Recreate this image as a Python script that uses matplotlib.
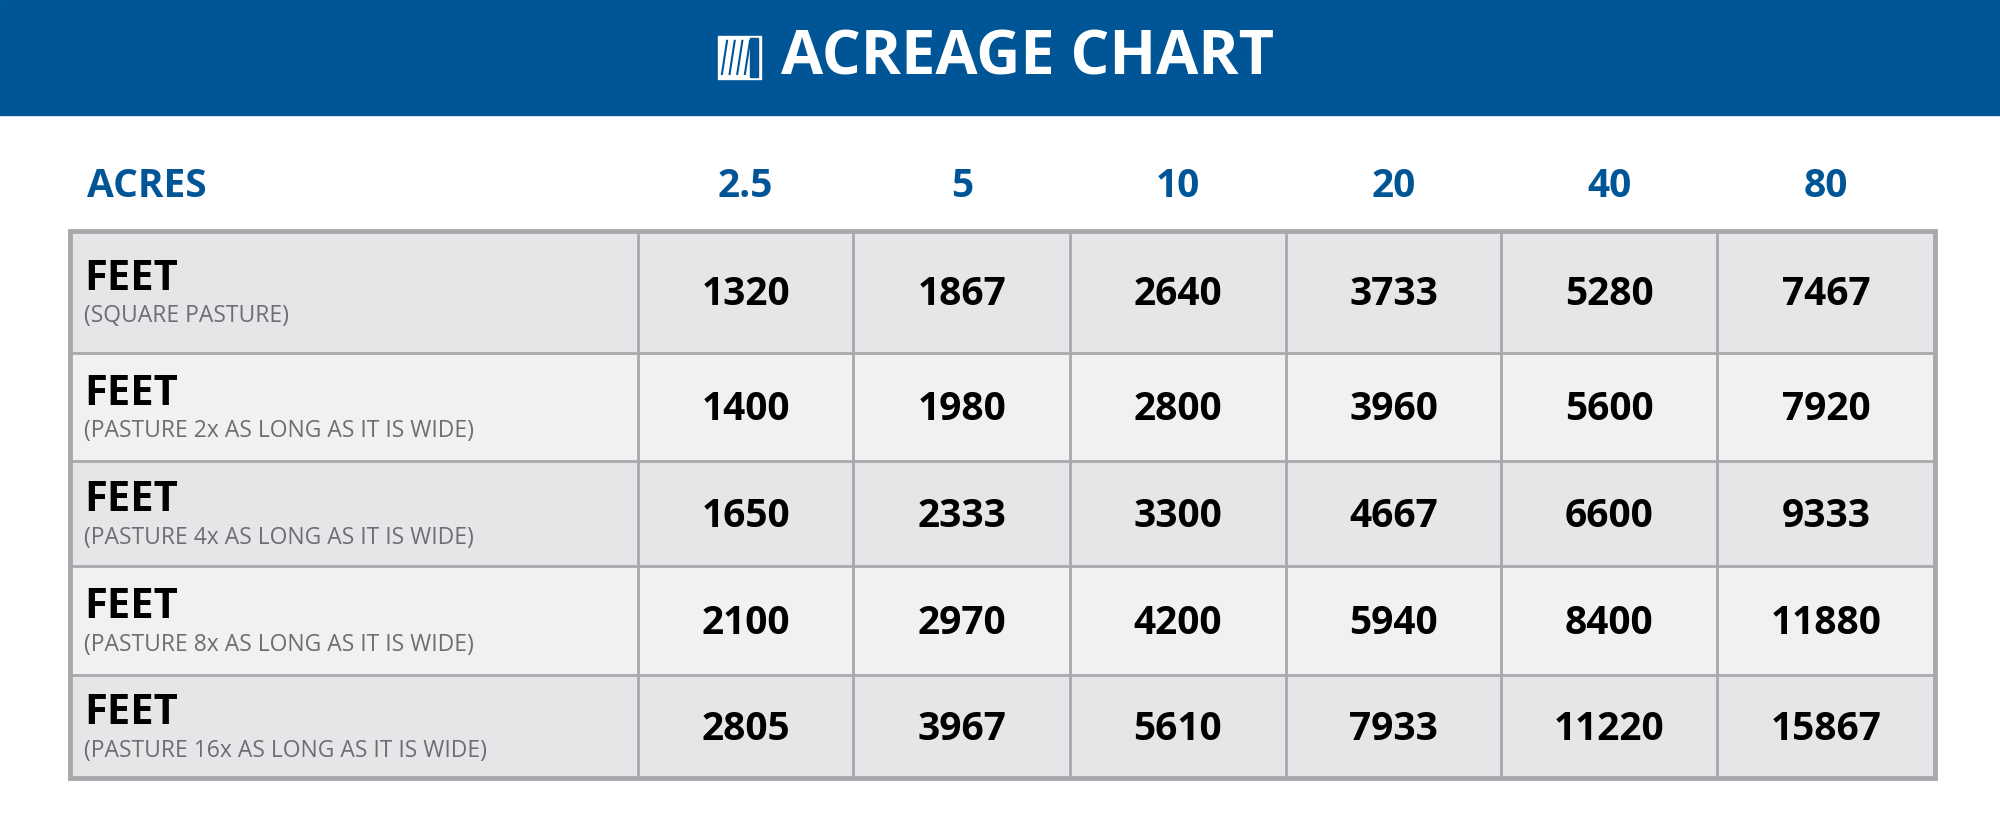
import matplotlib
matplotlib.use("Agg")
import matplotlib.pyplot as plt
from matplotlib.patches import Rectangle

title = "ACREAGE CHART"
acres = ["2.5", "5", "10", "20", "40", "80"]
row_titles = ["FEET"] * 5
row_subtitles = ["(SQUARE PASTURE)", "(PASTURE 2x AS LONG AS IT IS WIDE)",
                 "(PASTURE 4x AS LONG AS IT IS WIDE)", "(PASTURE 8x AS LONG AS IT IS WIDE)",
                 "(PASTURE 16x AS LONG AS IT IS WIDE)"]
values = [
    [1320, 1867, 2640, 3733, 5280, 7467],
    [1400, 1980, 2800, 3960, 5600, 7920],
    [1650, 2333, 3300, 4667, 6600, 9333],
    [2100, 2970, 4200, 5940, 8400, 11880],
    [2805, 3967, 5610, 7933, 11220, 15867],
]

BLUE = "#005596"
FONT = ["Open Sans", "DejaVu Sans"]
fig = plt.figure(figsize=(20, 8.33), dpi=100)
ax = fig.add_axes([0, 0, 1, 1])
W, H = 1568, 653
ax.set_xlim(0, W); ax.set_ylim(H, 0); ax.axis("off")

ax.add_patch(Rectangle((0, 0), W, 90, color=BLUE, zorder=1))
ax.text(612, 46, title, color="white", fontsize=44, fontweight="bold", family=FONT,
        ha="left", va="center")
# icon
ax.add_patch(Rectangle((563, 28), 34, 34, color="white", zorder=2))
for i in range(5):
    ax.plot([566 + i * 6, 566 + i * 6 + 4], [58, 32], color=BLUE, lw=1.5, zorder=3)
ax.add_patch(Rectangle((588, 30), 6, 30, color=BLUE, zorder=3))

ax.text(68, 146, "ACRES", color=BLUE, fontsize=28, fontweight="bold", family=FONT, va="center")
col_x = [500, 669, 839, 1008, 1177, 1346, 1517]
row_y = [181, 277, 361, 444, 529, 610]
for j, a in enumerate(acres):
    ax.text((col_x[j] + col_x[j + 1]) / 2, 146, a, color=BLUE, fontsize=28,
            fontweight="bold", family=FONT, ha="center", va="center")

left = 55
for i in range(5):
    y0, y1 = row_y[i], row_y[i + 1]
    ax.add_patch(Rectangle((left, y0), col_x[-1] - left, y1 - y0,
                           color="#e5e6e7" if i % 2 == 0 else "#f1f1f2", zorder=1))
    ym = (y0 + y1) / 2
    ax.text(66, ym - 10, row_titles[i], fontsize=30, fontweight="bold", family=FONT,
            va="center", color="black")
    ax.text(66, ym + 19, row_subtitles[i], fontsize=16.5, family=FONT, va="center",
            color="#6d6e71")
    for j, v in enumerate(values[i]):
        ax.text((col_x[j] + col_x[j + 1]) / 2, ym + 2, str(v), fontsize=28,
                fontweight="bold", family=FONT, ha="center", va="center", color="black")

lc = "#a7a9ac"
for y in row_y[1:-1]:
    ax.plot([left, col_x[-1]], [y, y], color=lc, lw=2, zorder=4)
for x in col_x[:-1]:
    ax.plot([x, x], [row_y[0], row_y[-1]], color=lc, lw=2, zorder=4)
ax.add_patch(Rectangle((left, row_y[0]), col_x[-1] - left, row_y[-1] - row_y[0],
                       fill=False, ec=lc, lw=3.5, zorder=5))

fig.savefig("out.png", dpi=100)
